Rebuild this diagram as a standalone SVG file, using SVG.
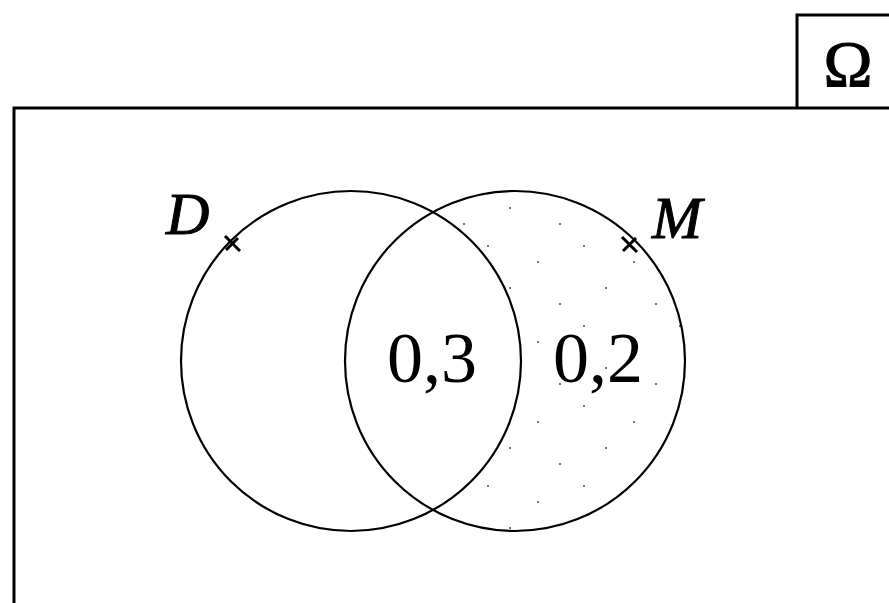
<svg xmlns="http://www.w3.org/2000/svg" width="889" height="603" viewBox="0 0 889 603">
<style>
.ln{fill:none;stroke:#000;stroke-width:3}
.circ{fill:none;stroke:#000;stroke-width:2.2}
.tick{fill:none;stroke:#000;stroke-width:3}
.lab{font-family:"Liberation Serif",serif;font-style:italic;font-size:60px;fill:#000;stroke:#000;stroke-width:1}
.num{font-family:"Liberation Serif",serif;font-size:72px;fill:#000}
.om{font-family:"Liberation Serif",serif;font-size:66px;fill:#000;stroke:#000;stroke-width:1.2}
.dot{fill:#444}
</style>
<defs>
<pattern id="dots" x="0" y="0" width="96" height="80" patternUnits="userSpaceOnUse">
<circle class="dot" cx="8" cy="6" r="1"/>
<circle class="dot" cx="58" cy="22" r="1"/>
<circle class="dot" cx="30" cy="48" r="1"/>
<circle class="dot" cx="80" cy="64" r="1"/>
</pattern>
<clipPath id="onlyM">
<path d="M433,212 A170,170 0 1 1 433,510 A170,170 0 0 0 433,212 Z"/>
</clipPath>
</defs>
<rect width="889" height="603" fill="#fff"/>
<g id="frame">
<path class="ln" d="M14,603 V108 H889"/>
<path class="ln" d="M797,108 V15 H889"/>
<text class="om" x="848" y="86" text-anchor="middle">Ω</text>
</g>
<g id="shade">
<rect x="340" y="180" width="360" height="360" fill="url(#dots)" clip-path="url(#onlyM)"/>
</g>
<g id="D">
<circle class="circ" cx="351" cy="361" r="170"/>
<path class="tick" d="M225,236 L240,251 M226,250 L238,238"/>
<text class="lab" x="166" y="234">D</text>
</g>
<g id="M">
<circle class="circ" cx="515" cy="361" r="170"/>
<path class="tick" d="M622,237 L637,252 M623,251 L636,238"/>
<text class="lab" x="652" y="238">M</text>
</g>
<g id="connectors"></g>
<g id="values">
<text class="num" x="432" y="382" text-anchor="middle">0,3</text>
<text class="num" x="598" y="382" text-anchor="middle">0,2</text>
</g>
</svg>
